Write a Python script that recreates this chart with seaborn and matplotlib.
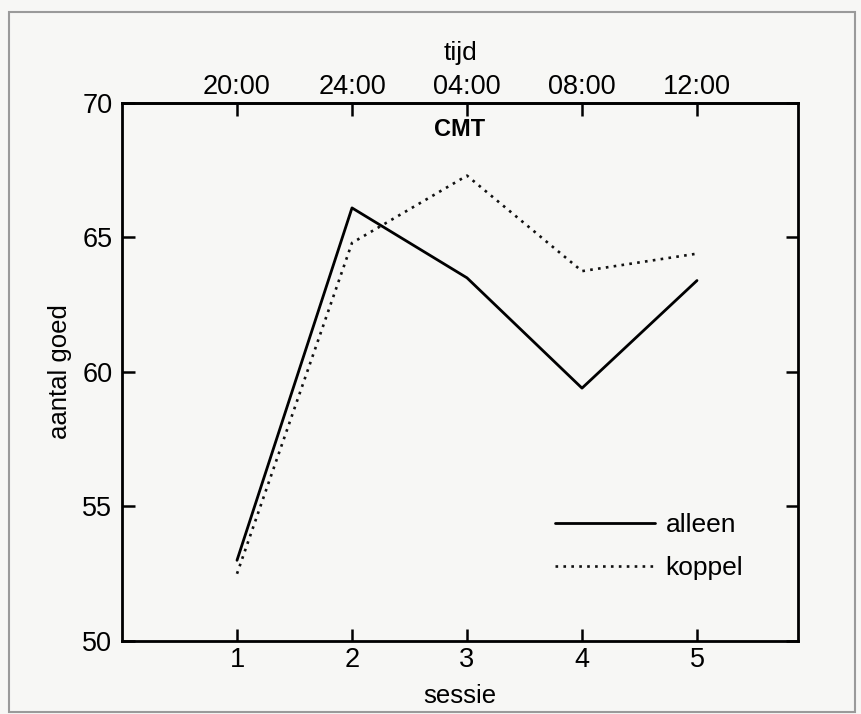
import matplotlib
matplotlib.use("Agg")
import matplotlib.pyplot as plt
import seaborn as sns
import pandas as pd
from matplotlib.patches import Rectangle

sessie = [1, 2, 3, 4, 5]
tijd_labels = ["20:00", "24:00", "04:00", "08:00", "12:00"]
alleen = [53.0, 66.1, 63.5, 59.4, 63.4]
koppel = [52.5, 64.8, 67.3, 63.75, 64.4]
y_ticks = [50, 55, 60, 65, 70]

sns.set_style("white")
plt.rcParams['font.family'] = ['Liberation Sans', 'DejaVu Sans']
plt.rcParams['text.color'] = 'black'
plt.rcParams['axes.labelcolor'] = 'black'

bg = "#f7f7f5"
W, H = 861, 714
fig = plt.figure(figsize=(W/100, H/100), dpi=100, facecolor=bg)
L, R, T, B = 122, 798, 103, 641
ax = fig.add_axes([L/W, 1 - B/H, (R-L)/W, (B-T)/H])
ax.set_facecolor(bg)

df = pd.DataFrame({"sessie": sessie * 2,
                   "aantal": alleen + koppel,
                   "groep": ["alleen"] * 5 + ["koppel"] * 5})
sns.lineplot(data=df[df.groep == "alleen"], x="sessie", y="aantal", ax=ax,
             color="black", lw=2.0, label="alleen")
sns.lineplot(data=df[df.groep == "koppel"], x="sessie", y="aantal", ax=ax,
             color="#111111", lw=1.9, linestyle=(0, (1, 2.0)), label="koppel")

ax.set_xlim(0, (R-L)/115)
ax.set_ylim(50, 70)
ax.set_xticks(sessie)
ax.set_yticks(y_ticks)
for s in ax.spines.values():
    s.set_color("black")
    s.set_linewidth(2.0)
ax.tick_params(axis="both", direction="in", length=9, width=1.8,
               labelsize=19.5, colors="black")
ax.tick_params(axis="y", right=True, left=True, pad=7)
ax.tick_params(axis="x", bottom=True, top=False, pad=4)
ax.set_xlabel("sessie", fontsize=18.5, labelpad=8)
ax.set_ylabel("aantal goed", fontsize=18.5)
ax.yaxis.set_label_coords(-0.074, 0.5)

sec = ax.secondary_xaxis("top")
sec.set_xticks(sessie)
sec.set_xticklabels(tijd_labels)
sec.tick_params(direction="in", length=9, width=1.8, labelsize=19.5, pad=2,
                colors="black")
sec.set_xlabel("tijd", fontsize=19, labelpad=10)
sec.spines["top"].set_linewidth(2.0)

ax.text(0.5, 0.972, "CMT", transform=ax.transAxes, ha="center", va="top",
        fontsize=17, fontweight="bold")

leg = ax.legend(loc="center left", bbox_to_anchor=(542/W, 1 - 546.5/H),
                bbox_transform=fig.transFigure, frameon=False, borderpad=0,
                fontsize=19, handlelength=3.8, handletextpad=0.38,
                labelspacing=0.72)
for t in leg.get_texts():
    t.set_color("black")

fig.patches.append(Rectangle((9/W, 1 - 712/H), (855-9)/W, (712-12)/H,
                             transform=fig.transFigure, fill=False,
                             edgecolor="#9a9a9a", lw=1.5))

fig.savefig("out.png", dpi=100, facecolor=bg)
